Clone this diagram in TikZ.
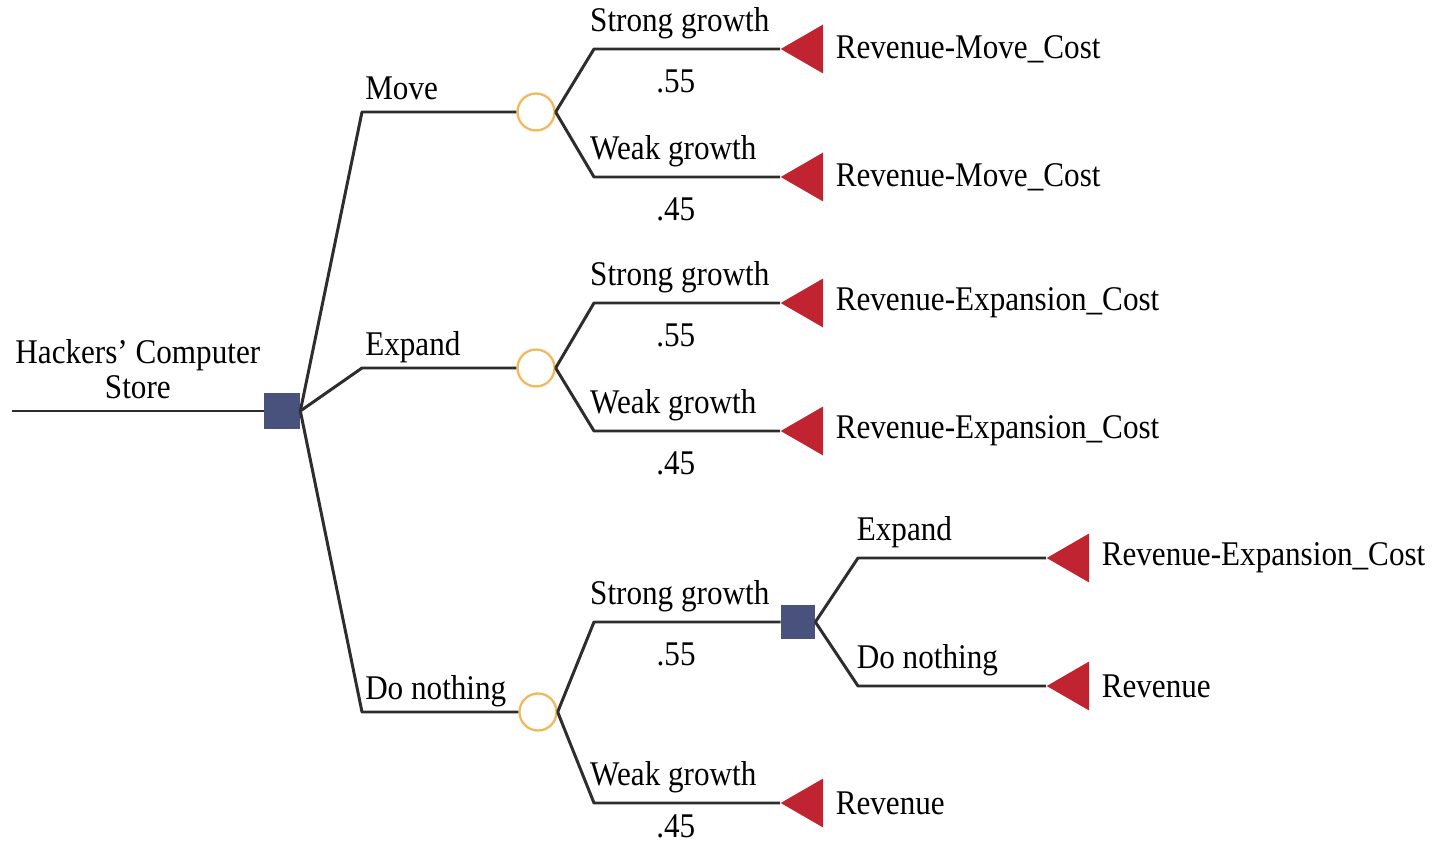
\documentclass[tikz,border=0pt]{standalone}
\usepackage{fontspec}
\setmainfont{Liberation Serif}[FakeStretch=0.9]
\usetikzlibrary{positioning, shapes.geometric}
\definecolor{decblue}{RGB}{72, 82, 125}
\definecolor{chanceorange}{RGB}{242, 184, 92}
\definecolor{termred}{RGB}{192, 36, 48}
\definecolor{branchgray}{RGB}{45, 45, 45}

\begin{document}
\begin{tikzpicture}[x=0.02cm, y=-0.02cm,
    font=\fontsize{19.7}{20}\selectfont,
    branch/.style={draw=branchgray, line width=1.7pt, line join=round},
    decision/.style={rectangle, fill=decblue, minimum size=0.72cm, inner sep=0pt},
    chance/.style={circle, draw=chanceorange, fill=white, line width=1.3pt,
                   minimum size=0.74cm, inner sep=0pt},
    payoff/.style={regular polygon, regular polygon sides=3, shape border rotate=90,
                   fill=termred, minimum size=1.13cm, inner sep=0pt, anchor=corner 1},
    value/.style={right=0.24cm of #1, inner sep=0pt},
    lbl/.style={anchor=base west, inner sep=0pt},
    gl/.style={lbl, xshift=-3pt, yshift=9.8pt},
    pr/.style={pos=0.44, anchor=base, inner sep=0pt, yshift=-24.5pt}]
  \useasboundingbox (0,0) rectangle (1433,847);

  % Decision and chance nodes
  \coordinate (start) at (12,411);
  \node[decision] (d1) at (282,411) {};
  \node[chance] (c1) at (536,112) {};
  \node[chance] (c2) at (536,368) {};
  \node[chance] (c3) at (538,712) {};
  \node[decision, minimum size=0.68cm] (d2) at (798,622) {};

  % End points
  \node[payoff] (t1) at (780,49) {};
  \node[payoff] (t2) at (780,177) {};
  \node[payoff] (t3) at (780,303) {};
  \node[payoff] (t4) at (780,431) {};
  \node[payoff] (t5) at (780,803) {};
  \node[payoff] (t6) at (1046,558) {};
  \node[payoff] (t7) at (1046,686) {};

  \node[value=t1] (v1) {Revenue-Move\_Cost};
  \node[value=t2] (v2) {Revenue-Move\_Cost};
  \node[value=t3] (v3) {Revenue-Expansion\_Cost};
  \node[value=t4] (v4) {Revenue-Expansion\_Cost};
  \node[value=t5] (v5) {Revenue};
  \node[value=t6] (v6) {Revenue-Expansion\_Cost};
  \node[value=t7] (v7) {Revenue};

  % First decision
  \draw[branch] (start) -- node[above, align=center, yshift=2.5pt]
      {Hackers' Computer\\Store} (d1.west);
  \draw[branch] (d1.east) -- (362,0 |- c1) node[lbl, xshift=1pt, yshift=7pt] {Move} -- (c1);
  \draw[branch] (d1.east) -- (362,0 |- c2) node[lbl, xshift=1pt, yshift=7pt] {Expand} -- (c2);
  \draw[branch] (d1.east) -- (362,0 |- c3) node[lbl, xshift=1pt, yshift=7pt] {Do nothing} -- (c3);

  % Move
  \draw[branch] (c1.east) -- (594,0 |- t1.corner 1) node[gl] {Strong growth}
      -- node[pr] {.55} (t1.corner 1);
  \draw[branch] (c1.east) -- (594,0 |- t2.corner 1) node[gl] {Weak growth}
      -- node[pr] {.45} (t2.corner 1);

  % Expand
  \draw[branch] (c2.east) -- (594,0 |- t3.corner 1) node[gl] {Strong growth}
      -- node[pr] {.55} (t3.corner 1);
  \draw[branch] (c2.east) -- (594,0 |- t4.corner 1) node[gl] {Weak growth}
      -- node[pr] {.45} (t4.corner 1);

  % Do nothing
  \draw[branch] (c3.east) -- (594,0 |- d2) node[gl] {Strong growth}
      -- node[pr] {.55} (d2.west);
  \draw[branch] (c3.east) -- (594,0 |- t5.corner 1) node[gl] {Weak growth}
      -- node[pr, yshift=5pt] {.45} (t5.corner 1);

  % Second decision
  \draw[branch] (d2.east) -- (858,0 |- t6.corner 1) node[lbl, xshift=-1.5pt, yshift=9.8pt] {Expand}
      -- (t6.corner 1);
  \draw[branch] (d2.east) -- (858,0 |- t7.corner 1) node[lbl, xshift=-1.5pt, yshift=9.8pt] {Do nothing}
      -- (t7.corner 1);
\end{tikzpicture}
\end{document}
